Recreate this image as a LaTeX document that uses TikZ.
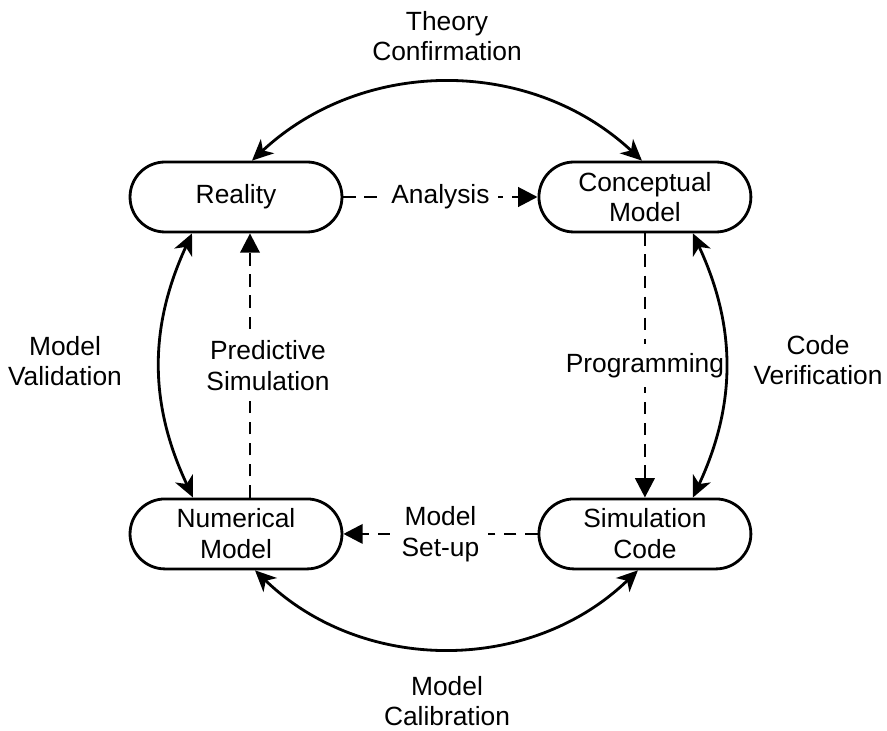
\documentclass[tikz,border=0pt]{standalone}
\usepackage{fontspec}
\setmainfont{Liberation Sans}
\usepackage{tikz}
\usetikzlibrary{arrows.meta, positioning}
\tikzset{
    stadium/.style={rectangle, rounded corners=0.7cm, minimum width=4.24cm, minimum height=1.4cm, text centered, draw, line width=1.6pt, align=center},
    loop/.style={{Stealth[length=12pt,width=11pt,inset=3.5pt]}-{Stealth[length=12pt,width=11pt,inset=3.5pt]}, line width=1.6pt},
    flow/.style={-{Triangle[length=11pt,width=11pt]}, line width=1.6pt, dash pattern=on 7pt off 5pt},
    tag/.style={fill=white, inner sep=5pt, align=center}
}
\begin{document}
\begin{tikzpicture}[
    x=0.02cm, y=0.02cm,
    node distance=8.18cm,
    font=\fontsize{15}{17.5}\selectfont
]
    \useasboundingbox (0,0) rectangle (887,731);

    % Model stages
    \node[stadium] at (236,534) (reality) {Reality};
    \node[stadium, right of=reality] (concept) {Conceptual\\Model};
    \node[stadium, below of=reality, yshift=1.44cm] (numerical) {Numerical\\Model};
    \node[stadium, right of=numerical] (simcode) {Simulation\\Code};

    % Dashed process steps
    \draw[flow] (reality) -- node[tag] {Analysis} (concept);
    \draw[flow] (concept) -- node[tag] {Programming} (simcode);
    \draw[flow] (simcode) -- node[tag] {Model\\Set-up} (numerical);
    \draw[flow] ([xshift=0.28cm]numerical.north) -- node[tag, xshift=0.36cm] {Predictive\\Simulation} ([xshift=0.28cm]reality.south);

    % Curved checks
    \draw[loop] ([xshift=0.32cm]reality.north) to[bend left=43] ([xshift=-0.06cm]concept.north);
    \draw[loop] ([xshift=0.96cm]concept.south) to[bend left=25] ([xshift=0.96cm]simcode.north);
    \draw[loop] ([xshift=-0.14cm]simcode.south) to[bend left=44] ([xshift=0.38cm]numerical.south);
    \draw[loop] ([xshift=-0.86cm]numerical.north) to[bend left=25] ([xshift=-0.88cm]reality.south);

    % Outer labels
    \node[align=center] (theory) at (447,695) {Theory\\Confirmation};
    \node[align=center] (validation) at (65,370) {Model\\Validation};
    \node[align=center] (verification) at (818,371) {Code\\Verification};
    \node[align=center] (calibration) at (447,30) {Model\\Calibration};
\end{tikzpicture}
\end{document}
